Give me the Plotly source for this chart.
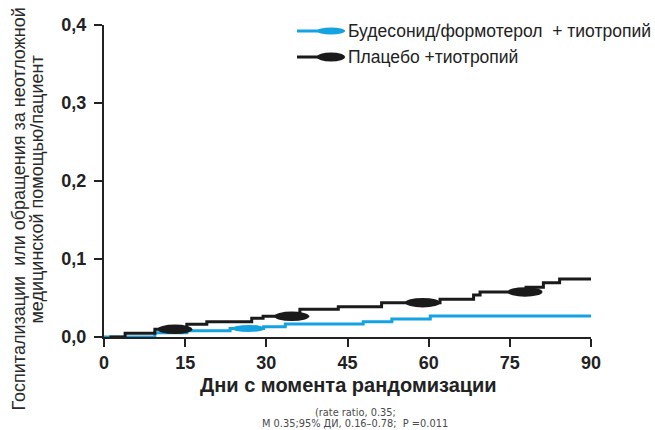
import plotly.graph_objects as go

# ---------------- data ----------------
bud_days = [0, 9.4, 15.3, 23.3, 29.5, 33.5, 47.9, 53.2, 60.3, 90]
bud_vals = [0.0, 0.0055, 0.0080, 0.0110, 0.0132, 0.0167, 0.0196, 0.0230, 0.0270, 0.0270]

plc_days = [1, 3.9, 9.4, 15.3, 19.0, 27.3, 29.4, 36.2, 43.3, 51.3, 62.1, 68.3, 69.5, 78.0, 81.2, 84.2, 90]
plc_vals = [0.0, 0.0048, 0.0099, 0.0165, 0.0196, 0.0240, 0.0265, 0.0355, 0.0388, 0.0440,
            0.0483, 0.0538, 0.0578, 0.0637, 0.0696, 0.0745, 0.0745]

bud_marker_days = [26.7]
plc_marker_days = [13.1, 34.7, 58.9, 77.8]

x_tickvals = [0, 15, 30, 45, 60, 75, 90]
y_tickvals = [0.0, 0.1, 0.2, 0.3, 0.4]
y_ticktext = ["0,0", "0,1", "0,2", "0,3", "0,4"]

legend_names = ["Будесонид/формотерол  + тиотропий", "Плацебо +тиотропий"]
x_title = "Дни с момента рандомизации"
y_title_lines = ["Госпитализации  или обращения за неотложной", "медицинской помощью/пациент"]
footnote = ["(rate ratio, 0.35;", "М 0.35;95% ДИ, 0.16–0.78;  P =0.011"]

# ---------------- style ----------------
W, H = 655, 430
L, R, T, B = 104, 64, 25, 93
BLUE = "#14a3e0"
BLACK = "#1a1a1a"
AXIS = "#222222"
FONT = "Liberation Sans, Arial, sans-serif"

X_RANGE = [0, 90]
Y_RANGE = [0, 0.4]
px_per_x = (W - L - R) / (X_RANGE[1] - X_RANGE[0])
px_per_y = (H - T - B) / (Y_RANGE[1] - Y_RANGE[0])


def step_value(days, vals, d):
    v = vals[0]
    for dd, vv in zip(days, vals):
        if dd <= d:
            v = vv
    return v


def px_to_paper(px, py):
    return (px - L) / (W - L - R), (H - B - py) / (H - T - B)


fig = go.Figure()
fig.add_trace(go.Scatter(x=bud_days, y=bud_vals, mode="lines", line=dict(color=BLUE, width=3, shape="hv"),
                         name=legend_names[0], showlegend=False, hoverinfo="skip"))
fig.add_trace(go.Scatter(x=plc_days, y=plc_vals, mode="lines", line=dict(color=BLACK, width=3, shape="hv"),
                         name=legend_names[1], showlegend=False, hoverinfo="skip"))

shapes = []


def add_ellipse(d, v, wpx, hpx, color):
    hw = wpx / 2 / px_per_x
    hh = hpx / 2 / px_per_y
    shapes.append(dict(type="circle", xref="x", yref="y", x0=d - hw, x1=d + hw, y0=v - hh, y1=v + hh,
                       fillcolor=color, line=dict(width=0), layer="above"))


for d in bud_marker_days:
    add_ellipse(d, step_value(bud_days, bud_vals, d), 33, 7, BLUE)
for d in plc_marker_days:
    add_ellipse(d, step_value(plc_days, plc_vals, d), 35, 9.5, BLACK)


# manual legend
def legend_item(py, color, ehpx, text):
    x0, y0 = px_to_paper(297, py)
    x1, _ = px_to_paper(330, py)
    shapes.append(dict(type="line", xref="paper", yref="paper", x0=x0, x1=x1, y0=y0, y1=y0,
                       line=dict(color=color, width=3)))
    ex0, ey0 = px_to_paper(317, py + ehpx / 2)
    ex1, ey1 = px_to_paper(345, py - ehpx / 2)
    shapes.append(dict(type="circle", xref="paper", yref="paper", x0=ex0, x1=ex1, y0=ey0, y1=ey1,
                       fillcolor=color, line=dict(width=0)))
    tx, ty = px_to_paper(346, py)
    return dict(text=text, xref="paper", yref="paper", x=tx, y=ty, xanchor="left", yanchor="middle",
                showarrow=False, font=dict(family=FONT, size=17.5, color="#222222"))


annotations = [legend_item(31, BLUE, 7, legend_names[0]),
               legend_item(57, BLACK, 9, legend_names[1])]

# axis title (x)
tx, ty = px_to_paper(348, 385)
annotations.append(dict(text="<b>" + x_title + "</b>", xref="paper", yref="paper", x=tx, y=ty,
                        xanchor="center", yanchor="middle", showarrow=False,
                        font=dict(family=FONT, size=20, color=AXIS)))
# y title lines
for (cx, cy), line in zip([(18.5, 209), (36.5, 190)], y_title_lines):
    ax_, ay_ = px_to_paper(cx, cy)
    annotations.append(dict(text=line, xref="paper", yref="paper", x=ax_, y=ay_, textangle=-90,
                            xanchor="center", yanchor="middle", showarrow=False,
                            font=dict(family=FONT, size=18, color="#2a2a2a")))
# footnote
for cy, line in zip([412.5, 424], footnote):
    fx, fy = px_to_paper(355, cy)
    annotations.append(dict(text=line, xref="paper", yref="paper", x=fx, y=fy, xanchor="center",
                            yanchor="middle", showarrow=False,
                            font=dict(family="DejaVu Sans, sans-serif", size=9.8, color="#4a4a4a")))

fig.update_layout(
    width=W, height=H,
    margin=dict(l=L, r=R, t=T, b=B, pad=0),
    plot_bgcolor="white", paper_bgcolor="white",
    shapes=shapes, annotations=annotations,
    showlegend=False, hovermode=False,
    xaxis=dict(range=X_RANGE, tickvals=x_tickvals, ticks="outside", ticklen=8, tickwidth=2,
               tickcolor=AXIS, showline=True, linecolor=AXIS, linewidth=2, showgrid=False,
               zeroline=False, automargin=False, fixedrange=True,
               tickfont=dict(family=FONT, size=18, color=AXIS, weight="bold")),
    yaxis=dict(range=Y_RANGE, tickvals=y_tickvals, ticktext=y_ticktext, ticks="outside", ticklen=8,
               tickwidth=2, tickcolor=AXIS, showline=True, linecolor=AXIS, linewidth=2, showgrid=False,
               zeroline=False, automargin=False, ticklabelstandoff=4, fixedrange=True,
               tickfont=dict(family=FONT, size=18, color=AXIS, weight="bold")),
)

fig.write_html("out.html", config={"displayModeBar": False},
               post_script="document.body.style.margin='0';document.body.style.overflow='hidden';")
